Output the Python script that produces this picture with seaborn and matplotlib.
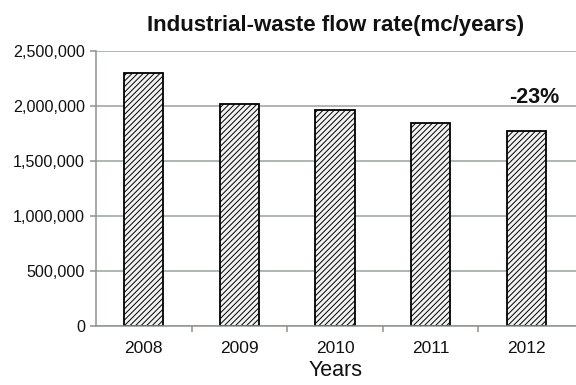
import matplotlib
matplotlib.use("Agg")
import matplotlib.pyplot as plt
import seaborn as sns
import pandas as pd
from matplotlib.ticker import FuncFormatter, FixedLocator

years = ["2008", "2009", "2010", "2011", "2012"]
flow_rate = [2300000, 2010000, 1955000, 1845000, 1765000]
change_label = "-23%"

sns.set_theme(style="white")
plt.rcParams["font.family"] = ["Liberation Sans", "DejaVu Sans"]
plt.rcParams["hatch.linewidth"] = 0.7
plt.rcParams["hatch.color"] = "#4a4a4a"

df = pd.DataFrame({"Year": years, "Flow": flow_rate})

fig = plt.figure(figsize=(5.76, 3.85), dpi=100)
ax = fig.add_axes([0.1667, 0.1545, 0.8333, 0.7143])

sns.barplot(data=df, x="Year", y="Flow", ax=ax, width=0.41,
            color="#f2f2f2", edgecolor="black", linewidth=1.3,
            hatch="//////", saturation=1)

ax.set_ylim(0, 2500000)
ax.set_xlim(-0.5, 4.52)
ax.set_yticks([0, 500000, 1000000, 1500000, 2000000, 2500000])
ax.yaxis.set_major_formatter(FuncFormatter(lambda v, p: f"{int(v):,}"))
ax.grid(axis="y", color="#9aa39a", linewidth=1.1)
ax.set_axisbelow(True)

for s in ["top", "right"]:
    ax.spines[s].set_visible(False)
for s in ["left", "bottom"]:
    ax.spines[s].set_color("#8c948c")
    ax.spines[s].set_linewidth(1.1)

ax.tick_params(axis="x", which="major", length=0, pad=11, labelsize=12.5,
               labelcolor="#111111")
ax.xaxis.set_minor_locator(FixedLocator([0.5, 1.5, 2.5, 3.5]))
ax.tick_params(axis="x", which="minor", length=4, width=1.1, color="#8c948c",
               direction="out", bottom=True)
ax.tick_params(axis="y", length=4, width=1.1, color="#8c948c", left=True,
               labelsize=11.6, labelcolor="#111111", pad=4)

ax.set_xlabel("Years", fontsize=15.5, labelpad=3, color="#111111")
ax.set_ylabel("")
ax.set_title("Industrial-waste flow rate(mc/years)", fontsize=16,
             fontweight="bold", pad=14.4, color="#111111")

ax.text(4.08, flow_rate[-1] + 310000, change_label, ha="center", va="center",
        fontsize=15.5, fontweight="bold", color="#111111")

fig.savefig("out.png", dpi=100)
